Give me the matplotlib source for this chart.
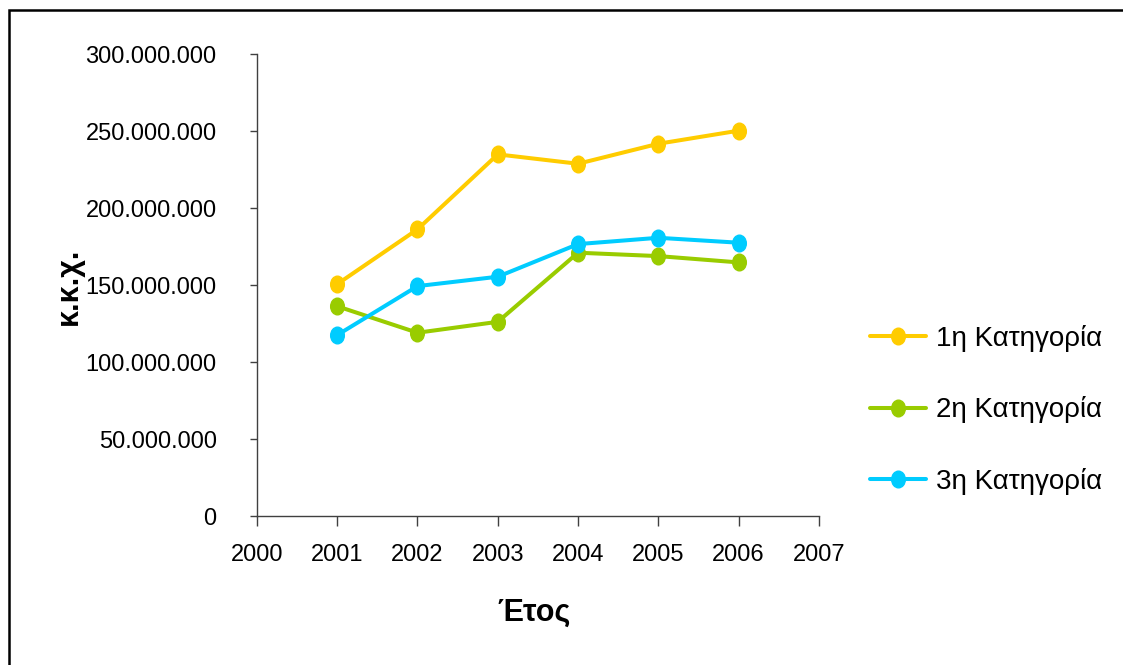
import matplotlib.pyplot as plt
from matplotlib.patches import Rectangle
from matplotlib.path import Path
from matplotlib.ticker import FuncFormatter, MultipleLocator

plt.rcParams['font.family'] = ['Liberation Sans', 'DejaVu Sans']

years = [2001, 2002, 2003, 2004, 2005, 2006]
cat1 = [150_700_000, 186_300_000, 235_000_000, 228_900_000, 241_900_000, 250_400_000]
cat2 = [136_300_000, 119_100_000, 126_200_000, 171_100_000, 168_900_000, 164_800_000]
cat3 = [117_600_000, 149_400_000, 155_500_000, 176_700_000, 180_800_000, 177_600_000]
labels = ['1η Κατηγορία', '2η Κατηγορία', '3η Κατηγορία']
colors = ['#FFCC00', '#99CC00', '#00CCFF']

# slightly tall oval marker
circ = Path.unit_circle()
oval = Path(circ.vertices * [0.82, 1.0], circ.codes)

fig = plt.figure(figsize=(11.23, 6.65), dpi=100)
ax = fig.add_axes([0.2288, 0.224, 0.5004, 0.6943])

for vals, lab, col in zip([cat1, cat2, cat3], labels, colors):
    ax.plot(years, vals, color=col, lw=2.9, marker=oval, ms=12,
            mec=col, mfc=col, label=lab, solid_capstyle='round')

ax.set_xlim(2000, 2007)
ax.set_ylim(0, 300_000_000)
ax.xaxis.set_major_locator(MultipleLocator(1))
ax.yaxis.set_major_locator(MultipleLocator(50_000_000))
ax.yaxis.set_major_formatter(FuncFormatter(lambda v, p: f"{int(v):,}".replace(',', '.')))

for s in ['top', 'right']:
    ax.spines[s].set_visible(False)
for s in ['left', 'bottom']:
    ax.spines[s].set_color('#404040')
    ax.spines[s].set_linewidth(1.0)

ax.tick_params(axis='y', direction='out', length=5, width=1, color='#404040',
               pad=24, labelsize=17)
ax.tick_params(axis='x', direction='out', length=7, width=1, color='#404040',
               pad=13, labelsize=17)

fig.text(0.061, 0.570, 'κ.κ.χ.', rotation=90, ha='center', va='center',
         fontsize=22, fontweight='bold')
fig.text(0.4755, 0.078, 'Έτος', ha='center', va='center',
         fontsize=22, fontweight='bold')

ax.legend(loc='center left', bbox_to_anchor=(0.7747, 0.3835),
          bbox_transform=fig.transFigure, frameon=False, fontsize=20,
          handlelength=2.0, handletextpad=0.36, labelspacing=1.6,
          borderaxespad=0, borderpad=0)

# outer frame
fig.patches.append(Rectangle((8.5 / 1123, -0.5), 1.5, 1.5 - 9.5 / 665,
                             transform=fig.transFigure, fill=False,
                             edgecolor='black', lw=1.8))

fig.savefig('out.png', dpi=100)
